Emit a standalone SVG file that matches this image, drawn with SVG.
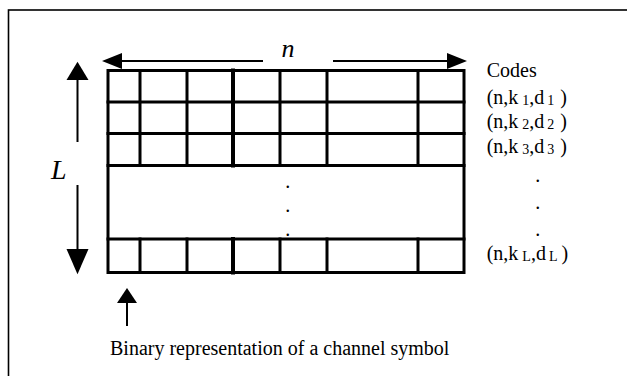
<svg xmlns="http://www.w3.org/2000/svg" width="627" height="376" viewBox="0 0 627 376">
<style>
.t{font-family:"Liberation Serif","Times New Roman",serif;fill:#000}
.it{font-style:italic}
.g{stroke:#000;stroke-width:3;fill:none;stroke-linecap:square}
.ln{stroke:#000;stroke-width:2;fill:none}
.ah{fill:#000;stroke:none}
.sub{font-size:14px}
</style>
<rect width="627" height="376" fill="#fff"/>
<g id="frame"><rect x="8.5" y="10" width="700" height="500" fill="none" stroke="#000" stroke-width="1.6"/></g>
<g id="grid">
<rect class="g" x="108" y="70.5" width="356" height="202"/>
<path class="g" d="M108 102H464M108 133.5H464M108 165.5H464M108 239H464"/>
<path class="g" d="M140 70.5V165.5M187 70.5V165.5M280 70.5V165.5M327 70.5V165.5M418 70.5V165.5M140 239V272.5M187 239V272.5M280 239V272.5M327 239V272.5M418 239V272.5"/>
<path class="g" style="stroke-width:4" d="M233 70.5V165.5M233 239V272.5"/>
<text class="t" x="287.7" y="187.5" font-size="20" text-anchor="middle">.</text>
<text class="t" x="287.7" y="211.5" font-size="20" text-anchor="middle">.</text>
<text class="t" x="287.7" y="235.8" font-size="20" text-anchor="middle">.</text>
</g>
<g id="connectors">
<g id="n-arrow">
<path class="ln" d="M120 61H263M333 61H449"/>
<polygon class="ah" points="102,61 122,53 122,69"/>
<polygon class="ah" points="467,61 447,53 447,69"/>
</g>
<g id="L-arrow">
<path class="ln" d="M77.5 78V142M77.5 185V251"/>
<polygon class="ah" points="77.5,61.7 66.5,80 88.5,80"/>
<polygon class="ah" points="77.5,274.3 66.5,249 88.5,249"/>
</g>
<g id="symbol-arrow">
<path class="ln" d="M127 301V326"/>
<polygon class="ah" points="127,288 117,303 137,303"/>
</g>
</g>
<g id="label-n"><text class="t it" x="288" y="57" font-size="26" text-anchor="middle">n</text></g>
<g id="label-L"><text class="t it" x="51" y="179" font-size="28">L</text></g>
<g id="codes">
<text class="t" x="486.7" y="76.7" font-size="20">Codes</text>
<text class="t" x="486.7" y="104" font-size="20">(n,k<tspan class="sub" dx="4" dy="1">1</tspan><tspan dy="-1">,d</tspan><tspan class="sub" dx="3" dy="1">1</tspan><tspan dx="6" dy="-1">)</tspan></text>
<text class="t" x="486.7" y="128.3" font-size="20">(n,k<tspan class="sub" dx="4" dy="1">2</tspan><tspan dy="-1">,d</tspan><tspan class="sub" dx="3" dy="1">2</tspan><tspan dx="6" dy="-1">)</tspan></text>
<text class="t" x="486.7" y="152.6" font-size="20">(n,k<tspan class="sub" dx="4" dy="1">3</tspan><tspan dy="-1">,d</tspan><tspan class="sub" dx="3" dy="1">3</tspan><tspan dx="6" dy="-1">)</tspan></text>
<text class="t" x="537.7" y="181.5" font-size="20" text-anchor="middle">.</text>
<text class="t" x="537.7" y="209.2" font-size="20" text-anchor="middle">.</text>
<text class="t" x="537.7" y="235.5" font-size="20" text-anchor="middle">.</text>
<text class="t" x="486.7" y="260" font-size="20">(n,k<tspan class="sub" dx="4" dy="1">L</tspan><tspan dy="-1">,d</tspan><tspan class="sub" dx="3" dy="1">L</tspan><tspan dx="4" dy="-1">)</tspan></text>
</g>
<g id="caption"><text class="t" x="110" y="355" font-size="20">Binary representation of a channel symbol</text></g>
</svg>
